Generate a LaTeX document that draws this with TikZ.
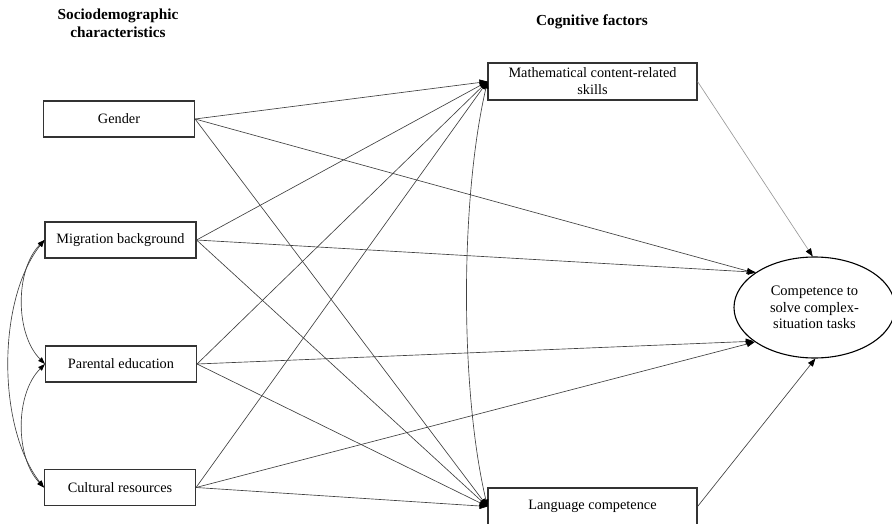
\documentclass[tikz,border=0pt]{standalone}
\usepackage{fontspec}
\setmainfont{Liberation Serif}
\usetikzlibrary{arrows.meta,shapes.geometric}
\tikzset{
  box/.style={draw=black!80, line width=1.1pt, rectangle, minimum width=151pt, minimum height=36pt, inner sep=0pt, font=\fontsize{14.3}{17}\selectfont, fill=white},
  bigbox/.style={box, minimum width=209pt, minimum height=37pt, align=center},
  outc/.style={draw=black, line width=1.1pt, ellipse, minimum width=161pt, minimum height=101pt, inner sep=0pt, align=center, font=\fontsize{14.5}{16.5}\selectfont},
  hdr/.style={font=\fontsize{15.3}{18}\selectfont\bfseries, align=center},
  path/.style={draw=black!75, line width=0.65pt, -{Triangle[length=8pt,width=6pt,color=black]}},
  lpath/.style={path, draw=black!40},
  cov/.style={draw=black!75, line width=0.65pt, {Triangle[length=7pt,width=5pt,color=black]}-{Triangle[length=7pt,width=5pt,color=black]}}
}
\begin{document}
\begin{tikzpicture}[x=1pt,y=-1pt]
\useasboundingbox (0,0) rectangle (892,524);
% headers
\node[hdr] (h1) at (118,23) {Sociodemographic\\characteristics};
\node[hdr] (h2) at (592,22) {Cognitive factors};
% nodes
\node[box] (g) at (119,119) {Gender};
\node[box] (m) at (120.5,240) {Migration background};
\node[box] (p) at (121,364) {Parental education};
\node[box] (c) at (120,487.5) {Cultural resources};
\node[bigbox] (mt) at (592.5,81.5) {Mathematical content-related\\skills};
\node[bigbox] (l) at (592.5,506.5) {Language competence};
\node[outc] (e) at (814.5,307.5) {Competence to\\solve complex-\\situation tasks};
% paths
\foreach \s in {g,m,p,c}{
  \draw[path] (\s.east) -- (mt.west);
  \draw[path] (\s.east) -- (l.west);
}
\draw[path] (g.east) -- (e.150);
\draw[path] (m.east) -- (e.149);
\draw[path] (p.east) -- (e.209);
\draw[path] (c.east) -- (e.210);
\draw[lpath] (mt.east) -- (e.92);
\draw[path] (l.east) -- (e.271);
% covariances
\draw[cov] (mt.west) .. controls (460,200) and (460,390) .. (l.west);
\draw[cov] (m.west) .. controls (15,270) and (15,334) .. (p.west);
\draw[cov] (p.west) .. controls (15,394) and (15,457) .. (c.west);
\draw[cov] (m.west) .. controls (-3,300) and (-3,427) .. (c.west);
\end{tikzpicture}
\end{document}
